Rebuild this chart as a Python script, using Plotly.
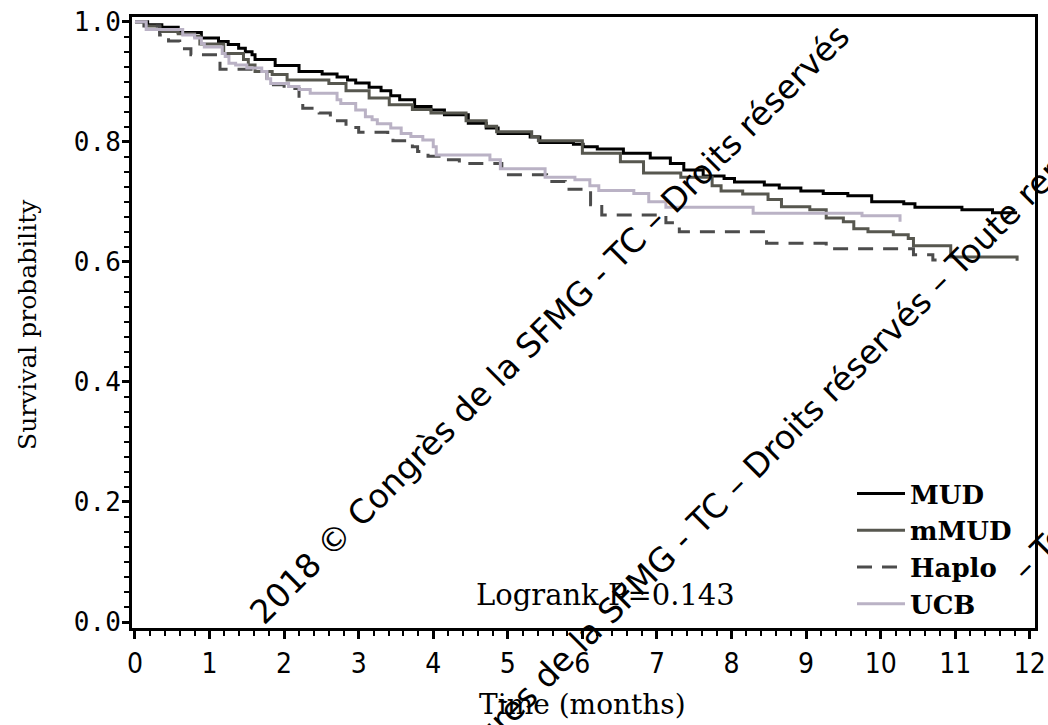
import plotly.graph_objects as go

# ---- data ----
mud_t = [0, 0.17, 0.36, 0.58, 0.89, 1.12, 1.25, 1.39, 1.48, 1.57, 1.61, 1.88, 2.20, 2.51, 2.71, 2.85,
         2.96, 3.14, 3.30, 3.43, 3.55, 3.75, 3.97, 4.15, 4.47, 4.71, 4.87, 5.30, 5.43, 5.88, 6.01,
         6.20, 6.55, 6.91, 7.18, 7.36, 7.62, 7.90, 8.04, 8.44, 8.64, 8.93, 9.23, 9.56, 9.88, 10.31,
         10.46, 11.09, 11.50, 11.83]
mud_s = [1.0, 0.995, 0.991, 0.982, 0.973, 0.967, 0.962, 0.956, 0.950, 0.945, 0.937, 0.927, 0.917, 0.913,
         0.908, 0.903, 0.898, 0.891, 0.885, 0.877, 0.870, 0.859, 0.853, 0.845, 0.831, 0.823, 0.814, 0.808,
         0.799, 0.796, 0.792, 0.788, 0.781, 0.773, 0.764, 0.753, 0.743, 0.739, 0.733, 0.728, 0.723, 0.718,
         0.714, 0.710, 0.700, 0.697, 0.691, 0.687, 0.682, 0.682]

mmud_t = [0, 0.15, 0.335, 0.58, 0.80, 0.87, 1.19, 1.455, 1.52, 1.61, 1.84, 2.04, 2.60, 2.83, 3.14, 3.41,
          3.72, 3.97, 4.44, 4.71, 4.85, 5.32, 5.41, 6.00, 6.51, 6.82, 7.32, 7.74, 7.86, 8.15, 8.49, 8.67,
          9.05, 9.27, 9.50, 9.64, 9.83, 10.17, 10.37, 10.44, 10.94, 11.83]
mmud_s = [1.0, 0.993, 0.984, 0.980, 0.976, 0.963, 0.947, 0.937, 0.928, 0.917, 0.912, 0.903, 0.897, 0.885,
          0.873, 0.862, 0.854, 0.848, 0.835, 0.826, 0.817, 0.809, 0.802, 0.781, 0.767, 0.748, 0.741, 0.727,
          0.718, 0.713, 0.704, 0.692, 0.687, 0.673, 0.667, 0.655, 0.650, 0.645, 0.639, 0.627, 0.608, 0.602]

haplo_t = [0, 0.12, 0.33, 0.45, 0.60, 0.75, 1.14, 1.60, 1.77, 2.00, 2.20, 2.25, 2.47, 2.62, 2.83, 3.00,
           3.39, 3.46, 3.72, 3.79, 3.93, 4.17, 4.35, 4.92, 5.52, 5.77, 6.11, 6.26, 7.12, 7.30, 8.47, 9.27,
           10.44, 10.70, 10.75]
haplo_s = [1.0, 0.993, 0.978, 0.968, 0.955, 0.945, 0.921, 0.917, 0.895, 0.889, 0.870, 0.856, 0.848, 0.835,
           0.824, 0.816, 0.812, 0.802, 0.792, 0.784, 0.776, 0.770, 0.764, 0.745, 0.734, 0.721, 0.695, 0.678,
           0.665, 0.650, 0.631, 0.622, 0.612, 0.603, 0.603]

ucb_t = [0, 0.15, 0.64, 0.80, 0.89, 0.93, 1.17, 1.21, 1.26, 1.35, 1.50, 1.70, 1.77, 1.82, 2.06, 2.20, 2.35,
         2.71, 2.76, 2.96, 3.09, 3.18, 3.25, 3.43, 3.57, 3.70, 3.86, 4.00, 4.04, 4.76, 4.90, 5.50, 5.90,
         6.10, 6.22, 6.69, 6.89, 7.12, 8.29, 9.75, 10.26]
ucb_s = [1.0, 0.987, 0.978, 0.973, 0.964, 0.958, 0.947, 0.942, 0.931, 0.928, 0.923, 0.917, 0.905, 0.897,
         0.892, 0.887, 0.881, 0.870, 0.864, 0.853, 0.842, 0.837, 0.830, 0.823, 0.814, 0.809, 0.803, 0.792,
         0.778, 0.770, 0.755, 0.741, 0.737, 0.727, 0.719, 0.714, 0.700, 0.691, 0.681, 0.677, 0.667]

series_names = ["MUD", "mMUD", "Haplo", "UCB"]
series_t = [mud_t, mmud_t, haplo_t, ucb_t]
series_s = [mud_s, mmud_s, haplo_s, ucb_s]
series_colors = ["#000000", "#57574f", "#4c4c4c", "#bab2c5"]
series_dash = ["solid", "solid", "15px,10px", "solid"]

x_ticks = list(range(0, 13))
y_ticks = [0.0, 0.2, 0.4, 0.6, 0.8, 1.0]

logrank_text = "Logrank P=0.143"
x_title = "Time (months)"
y_title = "Survival probability"
wm_line1 = "2018 © Congrès de la SFMG - TC – Droits réservés"
wm_line2 = "2018 © Congrès de la SFMG - TC – Droits réservés – Toute reproduction interdite"
wm_line3 = "– Toute reproduction interdite"

# ---- figure ----
W, H = 1048, 725
ML, MR, MT, MB = 132, 13, 17, 97
PW, PH = W - ML - MR, H - MT - MB

def px(xp):
    return (xp - ML) / PW

def py(yp):
    return (H - MB - yp) / PH

fig = go.Figure()
for name, t, s, c, d in zip(series_names, series_t, series_s, series_colors, series_dash):
    fig.add_trace(go.Scatter(x=t, y=s, mode="lines", name=name,
                             line=dict(shape="hv", color=c, width=3, dash=d)))

tickfont_x = dict(family="Liberation Sans Narrow, DejaVu Sans Condensed, DejaVu Sans", size=28, color="black")
tickfont_y = dict(family="DejaVu Sans Mono", size=26, color="black")
serif = "DejaVu Serif, Liberation Serif, serif"

fig.update_layout(
    width=W, height=H,
    margin=dict(l=ML, r=MR, t=MT, b=MB, pad=0, autoexpand=False),
    paper_bgcolor="white", plot_bgcolor="white",
    showlegend=True,
    legend=dict(x=px(852), y=py(470), xanchor="left", yanchor="top",
                bgcolor="rgba(0,0,0,0)", borderwidth=0,
                font=dict(family=serif, size=26, color="black", weight="bold"),
                tracegroupgap=0, itemwidth=48),
    xaxis=dict(range=[-0.04, 12.07], tickvals=x_ticks, ticktext=[str(v) for v in x_ticks],
               ticks="outside", ticklen=8, tickwidth=3, tickcolor="black",
               showline=True, linewidth=3, linecolor="black", mirror=True, automargin=False,
               showgrid=False, zeroline=False, tickfont=tickfont_x, ticklabelstandoff=0,
               minor=dict(dtick=0.2, ticks="outside", ticklen=5, tickwidth=2, tickcolor="black", showgrid=False)),
    yaxis=dict(range=[-0.01, 1.008], tickvals=y_ticks, ticktext=["%.1f" % v for v in y_ticks],
               ticks="outside", ticklen=7, tickwidth=3, tickcolor="black",
               showline=True, linewidth=3, linecolor="black", mirror=True, automargin=False,
               showgrid=False, zeroline=False, tickfont=tickfont_y, ticklabelstandoff=-4,
               minor=dict(dtick=0.025, ticks="outside", ticklen=5, tickwidth=2, tickcolor="black", showgrid=False)),
)

def note(text, x, y, size, angle=0, family=serif):
    return dict(text=text, x=px(x), y=py(y), xref="paper", yref="paper", xanchor="center",
                yanchor="middle", textangle=angle, showarrow=False,
                font=dict(family=family, size=size, color="black"))

ann = [
    note(logrank_text, 605, 595, 29),
    note(x_title, 582, 705, 28),
    note(y_title, 27, 325, 25, angle=-90),
]

wm_family = "DejaVu Sans"
ann.append(note(wm_line1, 549, 324, 33, angle=-45, family=wm_family))
ann.append(note(wm_line2, 808, 414, 33, angle=-45, family=wm_family))
ann.append(note(wm_line3, 1190, 403, 33, angle=-45, family=wm_family))
fig.update_layout(annotations=ann)

fig.write_html("out.html", config={"displayModeBar": False},
               post_script="document.body.style.margin='0px';")
